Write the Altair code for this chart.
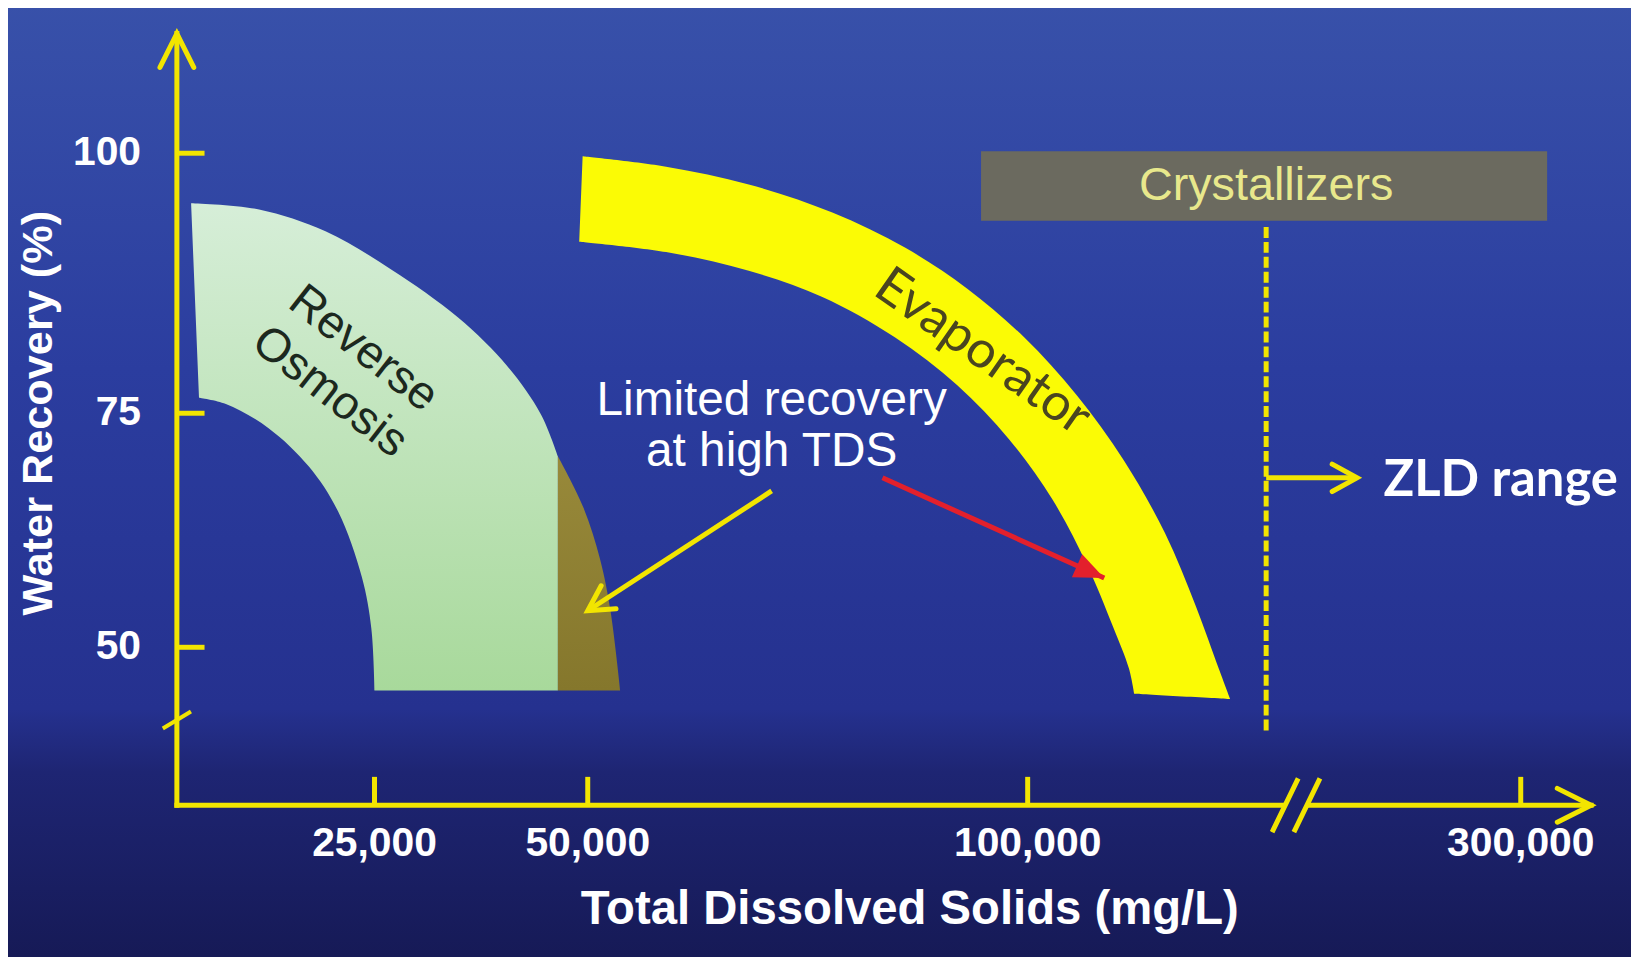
import altair as alt
import pandas as pd

# ---------------- values ----------------
# Reverse-osmosis operating envelope (TDS in mg/L, water recovery in %)
ro_tds = [1800, 10400, 18800, 27000, 34800, 40600, 44500, 46500, 46500, 25000, 24600, 23400, 20400, 16700, 11600, 6200, 2800]
ro_rec = [95.2, 94.6, 92.5, 88.8, 84.2, 79.5, 74.9, 70.4, 45.9, 45.9, 52.0, 57.5, 64.5, 69.3, 73.4, 75.9, 76.5]
ro_corners = [7, 8, 9]

# "Limited recovery at high TDS" part of the RO envelope
lim_tds = [46500, 49500, 51400, 52600, 53700, 46500]
lim_rec = [70.4, 64.9, 59.4, 53.8, 45.9, 45.9]
lim_corners = [4]

# Evaporator band
evap_tds = [49400, 58900, 68300, 77800, 86100, 93100, 99600, 105600, 110900, 115600, 119100, 121700, 123000,
            112100, 111500, 109700, 106700, 102800, 97900, 92000, 84900, 76600, 68300, 58900, 49000]
evap_rec = [99.7, 98.7, 97.0, 94.3, 90.9, 87.0, 82.3, 76.7, 70.0, 62.2, 54.4, 48.0, 45.1,
            45.6, 48.0, 52.2, 58.9, 65.8, 72.2, 77.7, 82.3, 86.2, 88.7, 90.5, 91.5]
evap_corners = [12, 13]

# Crystallizers box and ZLD boundary
cryst_tds = [94700, 303000]
cryst_rec = [93.5, 100.2]
zld_tds = 127100
zld_rec = [42.1, 93.2]

# axes
x_ticks = [25000, 50000, 100000, 300000]
x_tick_labels = ["25,000", "50,000", "100,000", "300,000"]
y_ticks = [100, 75, 50]
y_tick_labels = ["100", "75", "50"]
origin_tds, origin_rec = 0, 35
y_axis_top = 111.5
x_axis_end = 308000
x_gap = [129000, 276000]
x_break_at = 200000
y_break_at = 43.1

# annotations
label_text = ["Reverse\nOsmosis", "Evaporator", "Limited recovery\nat high TDS", "Crystallizers", "ZLD range"]
label_tds = [23600, 94900, 70900, 127100, 284400]
label_rec = [81.2, 80.9, 76.2, 96.8, 67.8]
arrow_from_tds = [70900, 83500, 127100]
arrow_from_rec = [66.7, 68.1, 68.1]
arrow_to_tds = [50000, 108700, 281400]
arrow_to_rec = [53.9, 57.4, 68.1]

# ---------------- styling ----------------
YELLOW = "#f2e500"
FONT = "Liberation Sans"
W, H = 1631, 949

xscale = alt.Scale(domain=[-20000, 0, 25000, 50000, 100000, 130000, 275000, 300000, 320000],
                   range=[10.8, 169.7, 368.3, 582.6, 1024.7, 1290.0, 1299.1, 1520.2, 1697.0],
                   zero=False, nice=False)
yscale = alt.Scale(domain=[20, 35, 50, 75, 100, 115],
                   range=[949.8, 798.9, 640.1, 404.9, 143.6, -13.2],
                   zero=False, nice=False)


def X(f):
    return alt.X(f, type="quantitative", scale=xscale, axis=None)


def Y(f):
    return alt.Y(f, type="quantitative", scale=yscale, axis=None)


def grad(stops):
    return alt.Gradient(gradient="linear", x1=0, y1=0, x2=0, y2=1,
                        stops=[alt.GradientStop(color=c, offset=o) for o, c in stops])


def poly(tds, rec, corners):
    # corner vertices are repeated so the smooth outline keeps them sharp
    xs, ys = [], []
    for k, (a, b) in enumerate(zip(tds, rec)):
        reps = 2 if k in corners else 1
        xs += [a] * reps
        ys += [b] * reps
    return pd.DataFrame({"tds": xs, "rec": ys, "i": list(range(len(xs)))})


layers = []

# background
bg_df = pd.DataFrame({"x": [-25000], "x2": [330000], "y": [15], "y2": [120]})
layers.append(alt.Chart(bg_df).mark_rect(
    color=grad([(0, "#3a54ab"), (0.4, "#2b3d9f"), (0.72, "#25318f"), (0.78, "#1e2573"), (1, "#14174f")])
).encode(x=X("x"), x2="x2", y=Y("y"), y2="y2"))

# RO envelope
layers.append(alt.Chart(poly(ro_tds, ro_rec, ro_corners)).mark_line(
    fill=grad([(0, "#d6eed8"), (1, "#a8d99b")]), strokeOpacity=0, interpolate="catmull-rom"
).encode(x=X("tds"), y=Y("rec"), order="i:Q"))
layers.append(alt.Chart(poly(lim_tds, lim_rec, lim_corners)).mark_line(
    fill=grad([(0, "#98893a"), (1, "#85772c")]), strokeOpacity=0, interpolate="catmull-rom"
).encode(x=X("tds"), y=Y("rec"), order="i:Q"))

# Evaporator band
layers.append(alt.Chart(poly(evap_tds, evap_rec, evap_corners)).mark_line(
    fill="#fbfb05", strokeOpacity=0, interpolate="catmull-rom"
).encode(x=X("tds"), y=Y("rec"), order="i:Q"))

# Crystallizers box
cr_df = pd.DataFrame({"x": [cryst_tds[0]], "x2": [cryst_tds[1]], "y": [cryst_rec[0]], "y2": [cryst_rec[1]]})
layers.append(alt.Chart(cr_df).mark_rect(color="#6b6a5f").encode(x=X("x"), x2="x2", y=Y("y"), y2="y2"))

# ZLD dashed boundary
zl_df = pd.DataFrame({"x": [zld_tds], "y": [zld_rec[0]], "y2": [zld_rec[1]]})
layers.append(alt.Chart(zl_df).mark_rule(color=YELLOW, strokeWidth=5, strokeDash=[11, 4]).encode(
    x=X("x"), y=Y("y"), y2="y2"))

# axis lines
ax_df = pd.DataFrame({
    "x": [origin_tds, origin_tds, x_gap[1]],
    "x2": [origin_tds, x_gap[0], x_axis_end],
    "y": [origin_rec, origin_rec, origin_rec],
    "y2": [y_axis_top, origin_rec, origin_rec],
})
layers.append(alt.Chart(ax_df).mark_rule(color=YELLOW, strokeWidth=5, strokeCap="square").encode(
    x=X("x"), x2="x2", y=Y("y"), y2="y2"))

# ticks
yt_df = pd.DataFrame({"x": [origin_tds] * 3, "x2": [3500] * 3, "y": y_ticks, "lab": y_tick_labels})
layers.append(alt.Chart(yt_df).mark_rule(color=YELLOW, strokeWidth=5).encode(x=X("x"), x2="x2", y=Y("y")))
xt_df = pd.DataFrame({"x": x_ticks, "y": [origin_rec] * 4, "y2": [37.7] * 4, "lab": x_tick_labels})
layers.append(alt.Chart(xt_df).mark_rule(color=YELLOW, strokeWidth=5).encode(x=X("x"), y=Y("y"), y2="y2"))

# axis break marks
brk_df = pd.DataFrame({"x": [x_break_at], "y": [origin_rec]})
layers.append(alt.Chart(brk_df).mark_point(
    shape="M-0.89,1L0.08,-1M-0.08,1L0.89,-1", size=2916, filled=False, stroke=YELLOW, strokeWidth=5, opacity=1
).encode(x=X("x"), y=Y("y")))
ybrk_df = pd.DataFrame({"x": [origin_tds], "y": [y_break_at]})
layers.append(alt.Chart(ybrk_df).mark_point(
    shape="M-1,0.6L1,-0.6", size=800, filled=False, stroke=YELLOW, strokeWidth=4, opacity=1
).encode(x=X("x"), y=Y("y")))

# axis arrow heads
head_df = pd.DataFrame({"x": [origin_tds, x_axis_end], "y": [y_axis_top, origin_rec], "ang": [270, 0]})
layers.append(alt.Chart(head_df).mark_point(
    shape="M-1,-0.5L0,0L-1,0.5", size=4624, filled=False, stroke=YELLOW, strokeWidth=5, opacity=1,
    strokeCap="round", strokeJoin="miter"
).encode(x=X("x"), y=Y("y"), angle=alt.Angle("ang:Q", scale=None)))

# annotation arrows
arr_df = pd.DataFrame({"x": arrow_from_tds, "y": arrow_from_rec, "x2": arrow_to_tds, "y2": arrow_to_rec,
                       "col": [YELLOW, "#e3202c", YELLOW], "ang": [147.0, 24.2, 0.0],
                       "kind": ["open", "solid", "open"]})
layers.append(alt.Chart(arr_df).mark_rule(strokeWidth=5).encode(
    x=X("x"), x2="x2", y=Y("y"), y2="y2", color=alt.Color("col:N", scale=None)))
layers.append(alt.Chart(arr_df[arr_df.kind == "open"]).mark_point(
    shape="M-1,-0.55L0,0L-1,0.55", size=2500, filled=False, strokeWidth=5, opacity=1, strokeCap="round"
).encode(x=X("x2"), y=Y("y2"), angle=alt.Angle("ang:Q", scale=None), stroke=alt.Stroke("col:N", scale=None)))
layers.append(alt.Chart(arr_df[arr_df.kind == "solid"]).mark_point(
    shape="M-1,-0.42L0,0L-1,0.42Z", size=3600, filled=True, opacity=1, strokeWidth=0
).encode(x=X("x2"), y=Y("y2"), angle=alt.Angle("ang:Q", scale=None), fill=alt.Fill("col:N", scale=None)))

# tick labels
layers.append(alt.Chart(yt_df).mark_text(
    align="right", baseline="middle", dx=-36, font=FONT, fontWeight="bold", fontSize=41, color="white"
).encode(x=X("x"), y=Y("y"), text="lab:N"))
layers.append(alt.Chart(xt_df).mark_text(
    align="center", baseline="middle", dy=39, font=FONT, fontWeight="bold", fontSize=41, color="white"
).encode(x=X("x"), y=Y("y"), text="lab:N"))

# axis titles
ttl_df = pd.DataFrame({"x": [86600], "y": [24.5], "t": ["Total Dissolved Solids (mg/L)"]})
layers.append(alt.Chart(ttl_df).mark_text(
    align="center", baseline="middle", font=FONT, fontWeight="bold", fontSize=47.5, color="white"
).encode(x=X("x"), y=Y("y"), text="t:N"))
ytl_df = pd.DataFrame({"x": [-17400], "y": [75.0], "t": ["Water Recovery (%)"]})
layers.append(alt.Chart(ytl_df).mark_text(
    align="center", baseline="middle", angle=270, font=FONT, fontWeight="bold", fontSize=43.5, color="white"
).encode(x=X("x"), y=Y("y"), text="t:N"))

# region labels
lab_df = pd.DataFrame({"x": label_tds, "y": label_rec, "t": label_text})
styles = [
    dict(angle=38, font=FONT, fontSize=47, color="#1c281e", lineHeight=55, align="center"),
    dict(angle=35, font="Lato", fontSize=52, color="#4a4520", align="center"),
    dict(font=FONT, fontSize=48, color="white", lineHeight=52, align="center"),
    dict(font=FONT, fontSize=47, color="#e8e88c", align="center"),
    dict(font="Lato", fontWeight="bold", fontSize=51, color="white", align="left"),
]
for k, st in enumerate(styles):
    layers.append(alt.Chart(lab_df.iloc[[k]]).mark_text(baseline="middle", lineBreak="\n", **st).encode(
        x=X("x"), y=Y("y"), text="t:N"))

chart = alt.layer(*layers).properties(
    width=W, height=H, padding=0, autosize=alt.AutoSizeParams(type="none"), background="white"
).configure_view(strokeWidth=0)

chart.save("out.html", embed_options={"renderer": "svg", "actions": False})
